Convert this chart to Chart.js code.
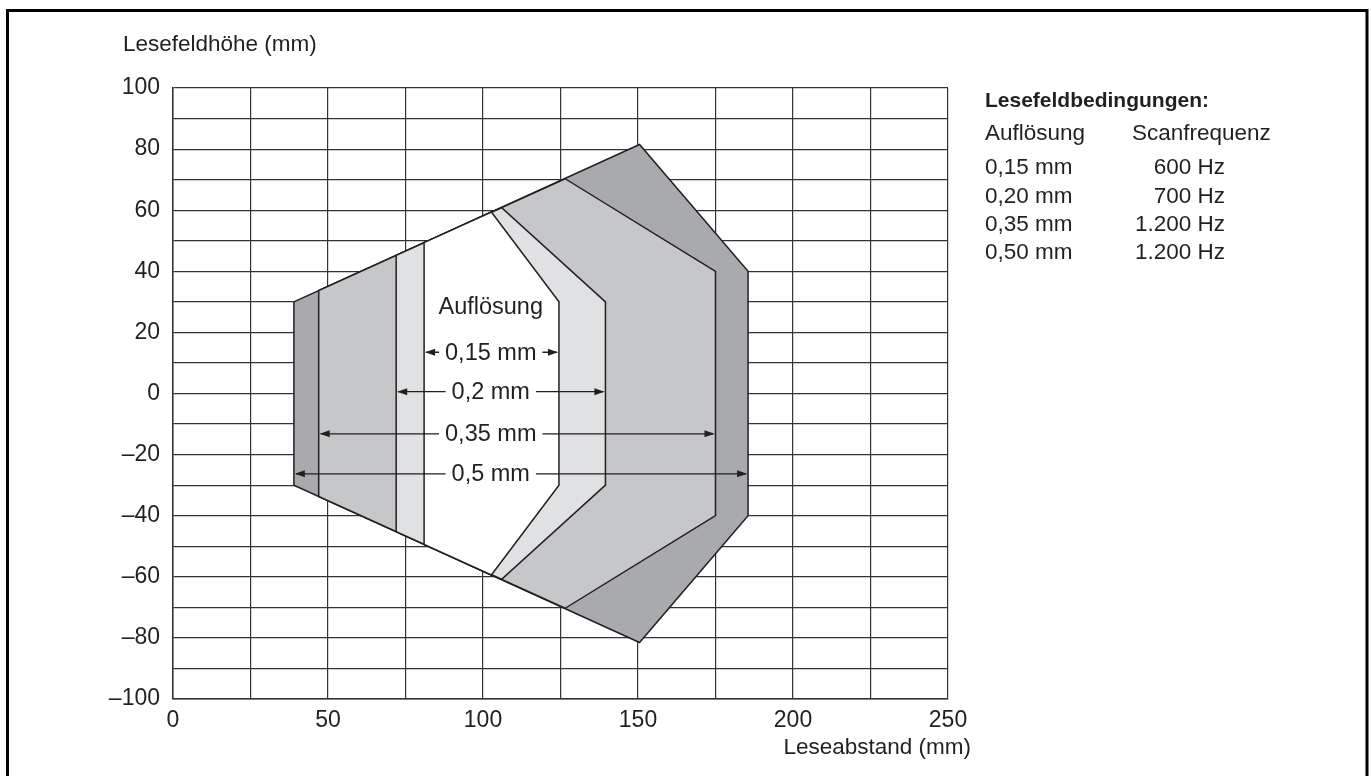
<!DOCTYPE html>
<html>
<head>
<meta charset="utf-8">
<script src="https://cdn.jsdelivr.net/npm/chart.js@4.4.1/dist/chart.umd.min.js"></script>
<style>
  html, body { margin: 0; padding: 0; background: #fff; }
  canvas { display: block; }
</style>
</head>
<body>
<canvas id="fieldChart" width="1371" height="776"></canvas>
<script>
// reading field zones (x = Leseabstand, y = Lesefeldhöhe), outermost last
const zoneNames = ["0,15 mm", "0,2 mm", "0,35 mm", "0,5 mm"];
const zoneX = [
  [81, 102.7, 124.5, 124.5, 102.7, 81, 81],
  [72, 106, 139.5, 139.5, 106, 72, 72],
  [47, 126.5, 175, 175, 126.5, 47, 47],
  [39, 150.5, 185.5, 185.5, 150.5, 39, 39]
];
const zoneY = [
  [49.4, 59.4, 30, -30, -59.4, -49.4, 49.4],
  [45.2, 60.8, 30, -30, -60.8, -45.2, 45.2],
  [33.7, 70.3, 40, -40, -70.3, -33.7, 33.7],
  [30, 81.5, 40, -40, -81.5, -30, 30]
];
const zoneColors = ["#ffffff", "#e0e1e3", "#c6c7c9", "#a9aaad"];

// width arrows inside the field
const arrowY = [13.5, 0.6, -13.2, -26.3];
const arrowFrom = [81, 72, 47, 39];
const arrowTo = [124.5, 139.5, 175, 185.5];
const arrowLabelX = 102.5;

// Lesefeldbedingungen table
const legendRes = ["0,15 mm", "0,20 mm", "0,35 mm", "0,50 mm"];
const legendFreq = ["600 Hz", "700 Hz", "1.200 Hz", "1.200 Hz"];

const FONT = "'Liberation Sans', Arial, sans-serif";
const INK = "#231f20";

const datasets = zoneNames.map((name, i) => ({
  label: name,
  data: zoneX[i].map((x, j) => ({ x: x, y: zoneY[i][j] })),
  showLine: true,
  fill: "shape",
  backgroundColor: zoneColors[i],
  borderColor: INK,
  borderWidth: 1.5,
  pointRadius: 0,
  tension: 0,
  order: i
}));

function arrowHead(ctx, x, y, dir) {
  ctx.beginPath();
  ctx.moveTo(x, y);
  ctx.lineTo(x - dir * 10, y - 3.5);
  ctx.lineTo(x - dir * 10, y + 3.5);
  ctx.closePath();
  ctx.fill();
}

const extras = {
  id: "extras",
  afterDatasetsDraw(chart) {
    const ctx = chart.ctx;
    const xs = chart.scales.x, ys = chart.scales.y;
    ctx.save();
    ctx.font = "23.5px " + FONT;
    ctx.fillStyle = INK;
    ctx.strokeStyle = INK;
    ctx.lineWidth = 1.3;
    ctx.textBaseline = "middle";
    ctx.textAlign = "center";

    const cx = xs.getPixelForValue(arrowLabelX);
    ctx.fillText("Auflösung", cx, ys.getPixelForValue(28));

    arrowY.forEach((v, i) => {
      const y = ys.getPixelForValue(v);
      const x0 = xs.getPixelForValue(arrowFrom[i]);
      const x1 = xs.getPixelForValue(arrowTo[i]);
      const w = ctx.measureText(zoneNames[i]).width;
      ctx.fillText(zoneNames[i], cx, y + 1);
      ctx.beginPath();
      ctx.moveTo(x0 + 2, y);
      ctx.lineTo(cx - w / 2 - 6, y);
      ctx.moveTo(cx + w / 2 + 6, y);
      ctx.lineTo(x1 - 2, y);
      ctx.stroke();
      arrowHead(ctx, x0 + 1, y, -1);
      arrowHead(ctx, x1 - 1, y, 1);
    });
    ctx.restore();
  },
  afterDraw(chart) {
    const ctx = chart.ctx;
    ctx.save();
    ctx.fillStyle = INK;
    ctx.textBaseline = "middle";

    ctx.font = "22.5px " + FONT;
    ctx.textAlign = "left";
    ctx.fillText("Lesefeldhöhe (mm)", 123, 45);
    ctx.textAlign = "right";
    ctx.fillText("Leseabstand (mm)", 971, 748);

    // legend table
    ctx.textAlign = "left";
    ctx.font = "bold 21px " + FONT;
    ctx.fillText("Lesefeldbedingungen:", 985, 101);
    ctx.font = "22.5px " + FONT;
    ctx.fillText("Auflösung", 985, 134);
    ctx.fillText("Scanfrequenz", 1132, 134);
    legendRes.forEach((r, i) => {
      const y = 168 + i * 28.3;
      ctx.textAlign = "left";
      ctx.fillText(r, 985, y);
      ctx.textAlign = "right";
      ctx.fillText(legendFreq[i], 1225, y);
    });

    // outer frame
    ctx.strokeStyle = "#000";
    ctx.lineWidth = 3;
    ctx.strokeRect(7.5, 10.5, 1359.5, 790);
    ctx.restore();
  }
};

new Chart(document.getElementById("fieldChart").getContext("2d"), {
  type: "scatter",
  data: { datasets: datasets },
  options: {
    responsive: false,
    devicePixelRatio: 1,
    animation: false,
    layout: { padding: { top: 88, right: 423, bottom: 0, left: 0 } },
    plugins: {
      legend: { display: false },
      tooltip: { enabled: false }
    },
    scales: {
      x: {
        type: "linear",
        min: 0,
        max: 250,
        afterFit(scale) { scale.height = 77; },
        ticks: {
          stepSize: 25,
          padding: 8,
          color: INK,
          font: { size: 23, family: FONT },
          maxRotation: 0,
          autoSkip: false,
          callback: v => (v % 50 === 0 ? String(v) : "")
        },
        grid: { color: "#333", lineWidth: 1.2, drawTicks: false },
        border: { color: "#333", width: 1.5 }
      },
      y: {
        type: "linear",
        min: -100,
        max: 100,
        afterFit(scale) { scale.width = 173; },
        ticks: {
          stepSize: 10,
          padding: 13,
          color: INK,
          font: { size: 23, family: FONT },
          autoSkip: false,
          callback: v => (v % 20 === 0 ? String(v).replace("-", "–") : "")
        },
        grid: { color: "#333", lineWidth: 1.2, drawTicks: false },
        border: { color: "#333", width: 1.5 }
      }
    }
  },
  plugins: [extras]
});
</script>
</body>
</html>
